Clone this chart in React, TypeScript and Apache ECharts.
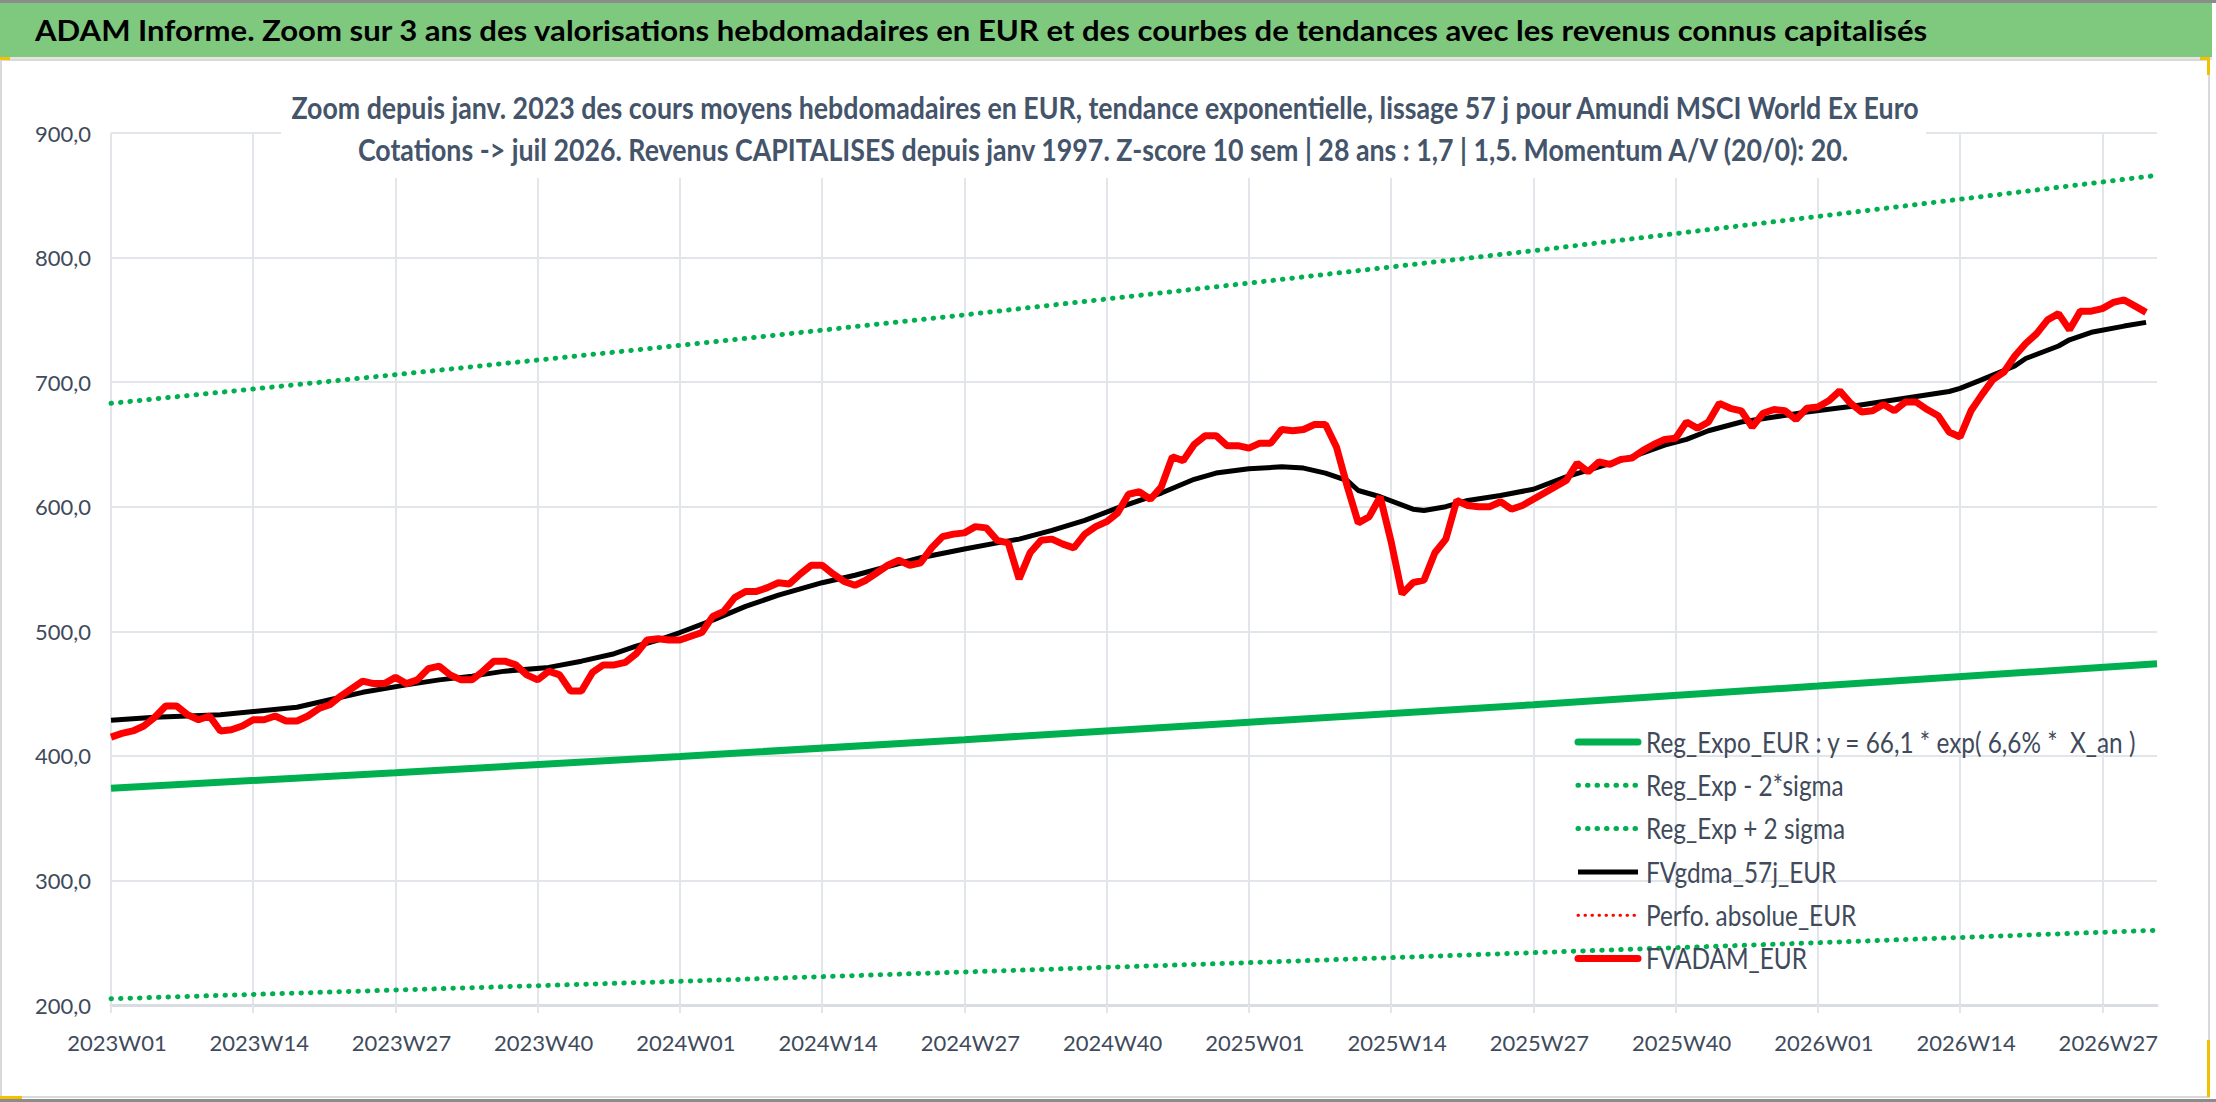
import React, { useEffect, useRef } from 'react';
import * as echarts from 'echarts';

// x axis: weekly categories 2023W01 -> 2026W32
const YEARS = [2023, 2024, 2025, 2026];
const WEEKS_PER_YEAR = 52;
const N_WEEKS = 188;

// FVADAM_EUR, one value per week from 2023W01
const FVADAM_EUR = [
  415, 418, 420, 424, 431, 440, 440, 433, 429, 432, 420, 421, 424, 429, 429, 432, 428, 428, 432, 438,
  441, 448, 454, 460, 458, 458, 463, 458, 461, 470, 472, 465, 461, 461, 468, 476, 476, 473, 465, 461,
  468, 465, 452, 452, 467, 473, 473, 475, 482, 493, 494, 493, 493, 496, 499, 512, 516, 527, 532, 532,
  535, 539, 538, 546, 553, 553, 546, 540, 537, 541, 547, 553, 557, 553, 555, 567, 576, 578, 579, 584,
  583, 573, 571, 542, 563, 573, 574, 570, 567, 578, 584, 588, 595, 610, 612, 606, 616, 640, 637, 650,
  657, 657, 649, 649, 647, 651, 651, 662, 661, 662, 666, 666, 648, 616, 587, 592, 608, 572, 530, 539,
  541, 563, 574, 605, 601, 600, 600, 604, 598, 601, 606, 611, 616, 621, 635, 628, 636, 634, 638, 639,
  645, 650, 654, 655, 668, 663, 668, 683, 679, 677, 664, 675, 678, 677, 670, 679, 680, 685, 693, 683,
  676, 677, 682, 677, 684, 684, 678, 673, 660, 656, 677, 690, 702, 708, 721, 731, 739, 750, 755, 742,
  757, 757, 759, 764, 766, 761, 756,
];

// FVgdma_57j_EUR, [week index, value]
const FVGDMA_57J = [
  [0, 428.5], [4, 431], [10, 433], [17, 439], [20, 445], [23, 451], [27, 457], [30, 461], [33, 464],
  [36, 468], [40, 471], [43, 476], [46, 482], [48, 488], [50, 493], [52, 499], [55, 509], [58, 520],
  [61, 529], [65, 539], [68, 545], [71, 552], [74, 559], [78, 566], [81, 571], [83, 574], [86, 581],
  [89, 589], [92, 599], [96, 611], [99, 622], [101, 627], [104, 630.5], [107, 632], [109, 631],
  [111, 627], [113, 621], [114, 613], [116, 608], [119, 598], [120, 597], [122, 600], [124, 605],
  [127, 609], [130, 614], [133, 624], [136, 632], [139, 640], [142, 649.5], [144, 654], [146, 661],
  [149, 668], [152, 672], [155, 676], [159, 680.5], [162, 684.5], [165, 688.5], [168, 692.5],
  [169, 695], [171, 702], [174, 713], [175, 719], [178, 729], [179, 734], [181, 740], [184, 745],
  [186, 748],
];

// trend lines, [week index, value]
const REG_EXPO = [[0, 374], [26, 386.5], [52, 399.5], [78, 413], [104, 427], [130, 441], [156, 456], [187, 474]];
const REG_MINUS_2S = [[0, 205], [26, 212], [52, 219], [78, 226.5], [104, 234], [130, 242], [156, 250], [187, 260]];
const REG_PLUS_2S = [[0, 683], [26, 706], [52, 729.5], [78, 754], [104, 779.5], [130, 805.5], [156, 833], [187, 866]];

const MAIN_TITLE =
  'ADAM Informe. Zoom sur 3 ans des valorisations hebdomadaires en EUR et des courbes de tendances avec les revenus connus capitalisés';
const SUBTITLE_LINES = [
  'Zoom depuis janv. 2023 des cours moyens hebdomadaires en EUR, tendance exponentielle, lissage 57 j pour Amundi MSCI World Ex Euro',
  'Cotations -> juil 2026. Revenus CAPITALISES depuis janv 1997. Z-score 10 sem | 28 ans : 1,7 | 1,5. Momentum A/V (20/0): 20.',
];
const NAMES = [
  'Reg_Expo_EUR : y = 66,1 * exp( 6,6% *  X_an )',
  'Reg_Exp - 2*sigma',
  'Reg_Exp + 2 sigma',
  'FVgdma_57j_EUR',
  'Perfo. absolue_EUR',
  'FVADAM_EUR',
];

const FONT = "Lato, 'Liberation Sans', sans-serif";
const TEXT_COLOR = '#404a5b';
const TITLE_COLOR = '#44546a';
const GRID_COLOR = '#e2e5ea';
const GREEN = '#00b050';
const RED = '#ff0000';

const categories: string[] = [];
YEARS.forEach((y) => {
  for (let w = 1; w <= WEEKS_PER_YEAR; w++) categories.push(`${y}W${String(w).padStart(2, '0')}`);
});
categories.length = N_WEEKS;

// the chart texts of the reference are horizontally condensed: measure and squeeze
const measure = (text: string, font: string) => {
  const ctx = document.createElement('canvas').getContext('2d');
  if (!ctx) return 1;
  ctx.font = font;
  return ctx.measureText(text).width || 1;
};

export default function App() {
  const chartRef = useRef<HTMLDivElement>(null);

  useEffect(() => {
    if (!chartRef.current) return;
    const chart = echarts.init(chartRef.current, undefined, { renderer: 'svg' });

    const titleFont = `bold 28px ${FONT}`;
    const titleScale = Math.min(1.15, 1895 / measure(MAIN_TITLE, titleFont));
    const subFont = `bold 30px ${FONT}`;
    const subScale = 1630 / measure(SUBTITLE_LINES[0], subFont);
    const legFont = `28px ${FONT}`;
    const legScale = 491 / measure(NAMES[0], legFont);

    const dotted = (color: string, width: number, gap: number) => ({
      color,
      width,
      type: [0.5, gap] as number[],
      cap: 'round' as const,
    });

    const legendStyles = [
      { stroke: GREEN, lineWidth: 7, lineCap: 'round' },
      { stroke: GREEN, lineWidth: 5, lineDash: [0.5, 9], lineCap: 'round' },
      { stroke: GREEN, lineWidth: 5, lineDash: [0.5, 9], lineCap: 'round' },
      { stroke: '#000', lineWidth: 5, lineCap: 'butt' },
      { stroke: RED, lineWidth: 3, lineDash: [0.5, 6.5], lineCap: 'round' },
      { stroke: RED, lineWidth: 7, lineCap: 'round' },
    ];

    const legendItems = NAMES.flatMap((name, i) => {
      const cy = 742 + i * 43.3;
      return [
        {
          type: 'line',
          z: 20,
          shape: { x1: 1578, y1: cy, x2: 1638, y2: cy },
          style: legendStyles[i],
          silent: true,
        },
        {
          type: 'text',
          z: 20,
          x: 1646,
          y: cy,
          scaleX: legScale,
          style: { text: name, font: legFont, fill: TEXT_COLOR, verticalAlign: 'middle' },
          silent: true,
        },
      ];
    });

    const option = {
      animation: false,
      backgroundColor: '#fff',
      textStyle: { fontFamily: FONT },
      graphic: [
        { type: 'rect', shape: { x: 0, y: 0, width: 2216, height: 3 }, style: { fill: '#8c8c8c' }, silent: true },
        { type: 'rect', shape: { x: 0, y: 3, width: 2212, height: 54 }, style: { fill: '#7fc97f' }, silent: true },
        { type: 'rect', shape: { x: 0, y: 57, width: 2212, height: 3 }, style: { fill: '#e4e4e4' }, silent: true },
        {
          type: 'rect',
          shape: { x: 1, y: 60, width: 2208, height: 1037 },
          style: { fill: 'none', stroke: '#d9d9d9', lineWidth: 2 },
          silent: true,
        },
        { type: 'rect', shape: { x: 0, y: 1099, width: 2216, height: 3 }, style: { fill: '#8c8c8c' }, silent: true },
        { type: 'rect', shape: { x: 0, y: 57, width: 10, height: 3 }, style: { fill: '#f2c200' }, silent: true },
        { type: 'rect', shape: { x: 2200, y: 57, width: 10, height: 3 }, style: { fill: '#f2c200' }, silent: true },
        { type: 'rect', shape: { x: 2207, y: 57, width: 3, height: 18 }, style: { fill: '#f2c200' }, silent: true },
        { type: 'rect', shape: { x: 0, y: 1096, width: 22, height: 3 }, style: { fill: '#f2c200' }, silent: true },
        { type: 'rect', shape: { x: 2207, y: 1040, width: 3, height: 57 }, style: { fill: '#f2c200' }, silent: true },
        {
          type: 'text',
          x: 35,
          y: 30,
          scaleX: titleScale,
          style: { text: MAIN_TITLE, fill: '#000', font: titleFont, verticalAlign: 'middle' },
          silent: true,
        },
        // chart title box, covering the grid as in the reference
        {
          type: 'rect',
          z: 10,
          shape: { x: 281, y: 80, width: 1645, height: 98 },
          style: { fill: '#fff' },
          silent: true,
        },
        {
          type: 'text',
          z: 11,
          x: 1105,
          y: 107,
          scaleX: subScale,
          style: { text: SUBTITLE_LINES[0], fill: TITLE_COLOR, font: subFont, align: 'center', verticalAlign: 'middle' },
          silent: true,
        },
        {
          type: 'text',
          z: 11,
          x: 1103,
          y: 149,
          scaleX: subScale,
          style: { text: SUBTITLE_LINES[1], fill: TITLE_COLOR, font: subFont, align: 'center', verticalAlign: 'middle' },
          silent: true,
        },
        ...legendItems,
      ],
      grid: { left: 111, right: 59, top: 133, bottom: 97 },
      xAxis: {
        type: 'category',
        data: categories,
        boundaryGap: false,
        axisLine: { lineStyle: { color: '#d9dce2', width: 3 } },
        axisTick: { show: true, interval: 12, length: 8, lineStyle: { color: GRID_COLOR, width: 2 } },
        splitLine: { show: true, interval: 12, lineStyle: { color: GRID_COLOR, width: 2 } },
        axisLabel: {
          interval: 12,
          fontSize: 22,
          color: TEXT_COLOR,
          margin: 26,
          padding: [0, 0, 0, 12],
          fontFamily: FONT,
        },
      },
      yAxis: {
        type: 'value',
        min: 200,
        max: 900,
        interval: 100,
        axisLine: { show: false },
        axisTick: { show: false },
        splitLine: { lineStyle: { color: GRID_COLOR, width: 2 } },
        axisLabel: {
          fontSize: 22,
          color: TEXT_COLOR,
          margin: 20,
          fontFamily: FONT,
          formatter: (v: number) => v.toFixed(1).replace('.', ','),
        },
      },
      series: [
        { name: NAMES[0], type: 'line', data: REG_EXPO, symbol: 'none', lineStyle: { color: GREEN, width: 7 } },
        { name: NAMES[1], type: 'line', data: REG_MINUS_2S, symbol: 'none', lineStyle: dotted(GREEN, 5, 9) },
        { name: NAMES[2], type: 'line', data: REG_PLUS_2S, symbol: 'none', lineStyle: dotted(GREEN, 5, 9) },
        { name: NAMES[3], type: 'line', data: FVGDMA_57J, symbol: 'none', lineStyle: { color: '#000', width: 5 } },
        { name: NAMES[4], type: 'line', data: [], symbol: 'none', lineStyle: dotted(RED, 3, 6.5) },
        { name: NAMES[5], type: 'line', data: FVADAM_EUR, symbol: 'none', lineStyle: { color: RED, width: 7 } },
      ],
    };

    chart.setOption(option);
    const onResize = () => chart.resize();
    window.addEventListener('resize', onResize);
    return () => {
      window.removeEventListener('resize', onResize);
      chart.dispose();
    };
  }, []);

  return (
    <div
      ref={chartRef}
      style={{ position: 'absolute', left: 0, top: 0, width: 2216, height: 1102 }}
    />
  );
}
